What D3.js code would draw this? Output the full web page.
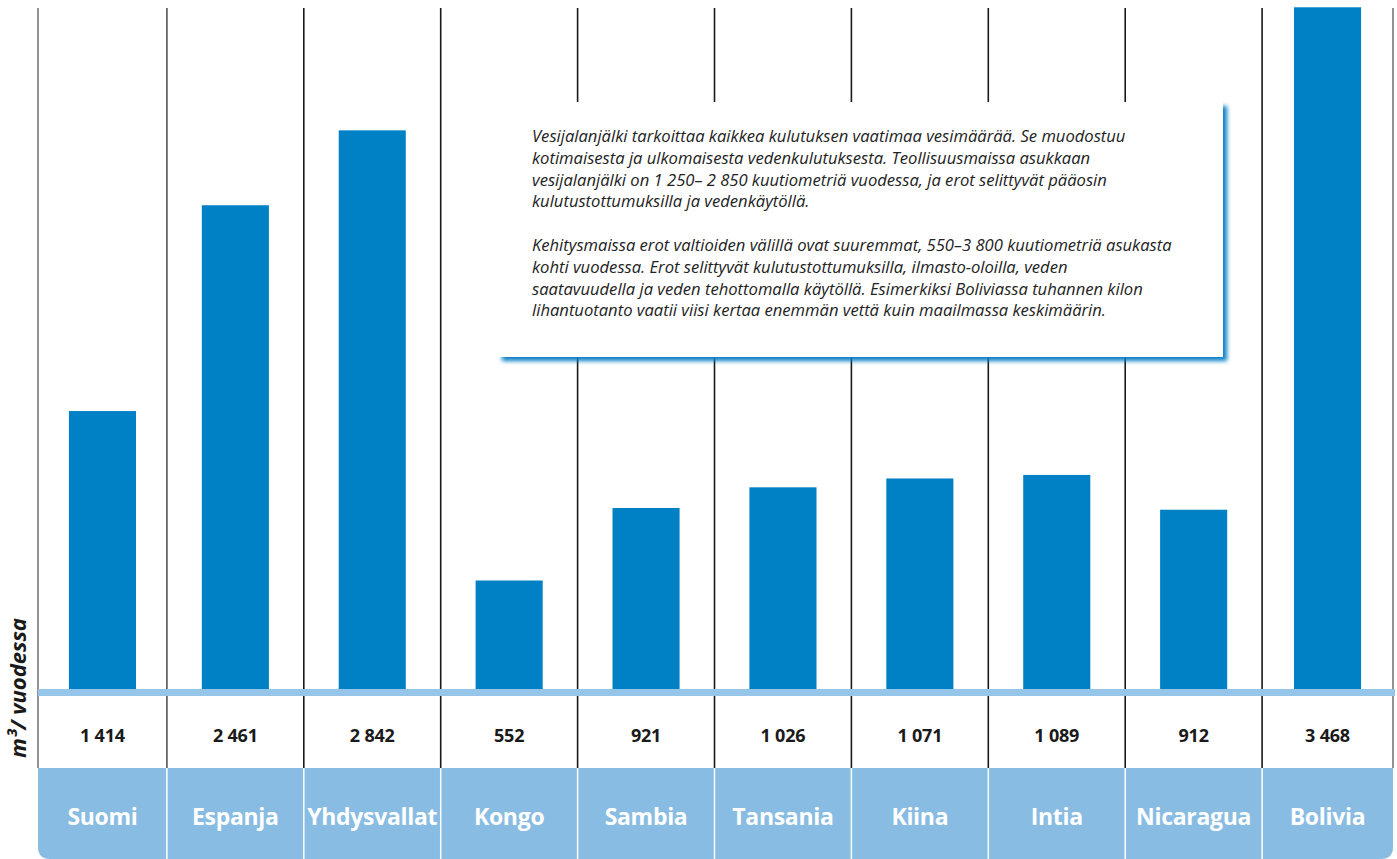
<!DOCTYPE html>
<html>
<head>
<meta charset="utf-8">
<script src="https://cdn.jsdelivr.net/npm/d3@7"></script>
<style>
  html, body { margin: 0; padding: 0; background: #fff; }
  svg { display: block; }
</style>
</head>
<body>
<div id="vis"></div>
<script>
(function () {
    const countries = ["Suomi", "Espanja", "Yhdysvallat", "Kongo", "Sambia", "Tansania", "Kiina", "Intia", "Nicaragua", "Bolivia"];
    const values = [1414, 2461, 2842, 552, 921, 1026, 1071, 1089, 912, 3468];
    const valueLabels = ["1 414", "2 461", "2 842", "552", "921", "1 026", "1 071", "1 089", "912", "3 468"];
    const yLabel = "m³/ vuodessa";
    const noteLines = [
        "Vesijalanjälki tarkoittaa kaikkea kulutuksen vaatimaa vesimäärää. Se muodostuu",
        "kotimaisesta ja ulkomaisesta vedenkulutuksesta. Teollisuusmaissa asukkaan",
        "vesijalanjälki on 1 250– 2 850 kuutiometriä vuodessa, ja erot selittyvät pääosin",
        "kulutustottumuksilla ja vedenkäytöllä.",
        "",
        "Kehitysmaissa erot valtioiden välillä ovat suuremmat, 550–3 800 kuutiometriä asukasta",
        "kohti vuodessa. Erot selittyvät kulutustottumuksilla, ilmasto-oloilla, veden",
        "saatavuudella ja veden tehottomalla käytöllä. Esimerkiksi Boliviassa tuhannen kilon",
        "lihantuotanto vaatii viisi kertaa enemmän vettä kuin maailmassa keskimäärin."
    ];

    const W = 1397, H = 859;
    const left = 38, right = 1393;   // outer frame of the table
    const baseY = 689;               // bar baseline
    const stripeH = 7;
    const cellTop = 768;             // top of country label cells

    const svg = d3.select("#vis").append("svg")
        .attr("width", W)
        .attr("height", H);

    const defs = svg.append("defs");
    const shadow = defs.append("filter").attr("id", "boxShadow")
        .attr("x", "-5%").attr("y", "-5%").attr("width", "110%").attr("height", "115%");
    shadow.append("feGaussianBlur").attr("in", "SourceAlpha").attr("stdDeviation", 2).attr("result", "blur");
    shadow.append("feOffset").attr("dx", 3.5).attr("dy", 3.5).attr("result", "off");
    shadow.append("feFlood").attr("flood-color", "#0a7fc6");
    shadow.append("feComposite").attr("in2", "off").attr("operator", "in");
    const merge = shadow.append("feMerge");
    merge.append("feMergeNode");
    merge.append("feMergeNode").attr("in", "SourceGraphic");

    defs.append("clipPath").attr("id", "frame")
        .append("rect").attr("x", left).attr("y", 0).attr("width", right - left).attr("height", H);

    // columns: the first one is cut by the frame on the left
    const x = d3.scaleBand()
        .domain(countries)
        .range([30, 1399]);

    const y = d3.scaleLinear()
        .domain([0, 3500])
        .range([baseY, 1]);

    const data = countries.map((c, i) => ({ country: c, value: values[i], label: valueLabels[i] }));
    const colCenter = d => {
        const x0 = Math.max(x(d), left);
        const x1 = Math.min(x(d) + x.bandwidth(), right);
        return (x0 + x1) / 2;
    };

    // label cells (light blue, rounded bottom corners)
    const r = 12;
    svg.append("path")
        .attr("fill", "#88bce2")
        .attr("d", `M${left},${cellTop} H${right} V${H - r} Q${right},${H} ${right - r},${H} H${left + r} Q${left},${H} ${left},${H - r} Z`);

    svg.selectAll(".cell-sep")
        .data(countries.slice(1))
        .enter()
        .append("line")
        .attr("x1", d => x(d))
        .attr("x2", d => x(d))
        .attr("y1", cellTop)
        .attr("y2", H)
        .attr("stroke", "#fff")
        .attr("stroke-width", 1.5);

    // vertical separators
    const seps = [left, ...countries.slice(1).map(d => x(d)), right];
    svg.selectAll(".sep")
        .data(seps)
        .enter()
        .append("line")
        .attr("x1", d => d)
        .attr("x2", d => d)
        .attr("y1", 8)
        .attr("y2", cellTop)
        .attr("stroke", (d, i) => (i === 0 || i === seps.length - 1) ? "#777" : (i === 1 ? "#555" : "#1a1a1a"))
        .attr("stroke-width", 1.6);

    // bars
    const barW = x.bandwidth() * 0.49;
    svg.selectAll(".bar")
        .data(data)
        .enter()
        .append("rect")
        .attr("x", d => colCenter(d.country) - barW / 2)
        .attr("y", d => y(d.value))
        .attr("width", barW)
        .attr("height", d => y(0) - y(d.value))
        .attr("fill", "#0081c6");

    // baseline stripe
    svg.append("rect")
        .attr("x", left)
        .attr("y", baseY)
        .attr("width", right - left + 2)
        .attr("height", stripeH)
        .attr("fill", "#95c5e9");

    // value labels
    svg.selectAll(".val")
        .data(data)
        .enter()
        .append("text")
        .attr("x", d => colCenter(d.country))
        .attr("y", 742)
        .attr("text-anchor", "middle")
        .style("font-family", "'Open Sans', sans-serif")
        .style("font-weight", 700)
        .style("font-size", "18px")
        .style("letter-spacing", "-0.2px")
        .attr("fill", "#1a1a1a")
        .text(d => d.label);

    // country labels
    svg.selectAll(".name")
        .data(data)
        .enter()
        .append("text")
        .attr("x", d => colCenter(d.country))
        .attr("y", 825)
        .attr("text-anchor", "middle")
        .style("font-family", "'Open Sans', sans-serif")
        .style("font-weight", 700)
        .style("font-size", "23px")
        .style("letter-spacing", "-0.3px")
        .attr("fill", "#fff")
        .text(d => d.country);

    // y axis title
    svg.append("text")
        .attr("transform", "translate(26,688) rotate(-90)")
        .attr("text-anchor", "middle")
        .style("font-family", "'Open Sans', sans-serif")
        .style("font-weight", 700)
        .style("font-style", "italic")
        .style("font-size", "22px")
        .attr("fill", "#1a1a1a")
        .text(yLabel);

    // note box
    const box = { x: 498, y: 102, w: 725, h: 255 };
    svg.append("rect")
        .attr("x", box.x)
        .attr("y", box.y)
        .attr("width", box.w)
        .attr("height", box.h)
        .attr("fill", "#fff")
        .attr("filter", "url(#boxShadow)");

    svg.append("g")
        .selectAll("text")
        .data(noteLines)
        .enter()
        .append("text")
        .attr("x", 532)
        .attr("y", (d, i) => 142 + i * 21.8)
        .style("font-family", "'Open Sans', sans-serif")
        .style("font-style", "italic")
        .style("font-size", "16.6px")
        .attr("fill", "#222")
        .text(d => d);
})();
</script>
</body>
</html>
